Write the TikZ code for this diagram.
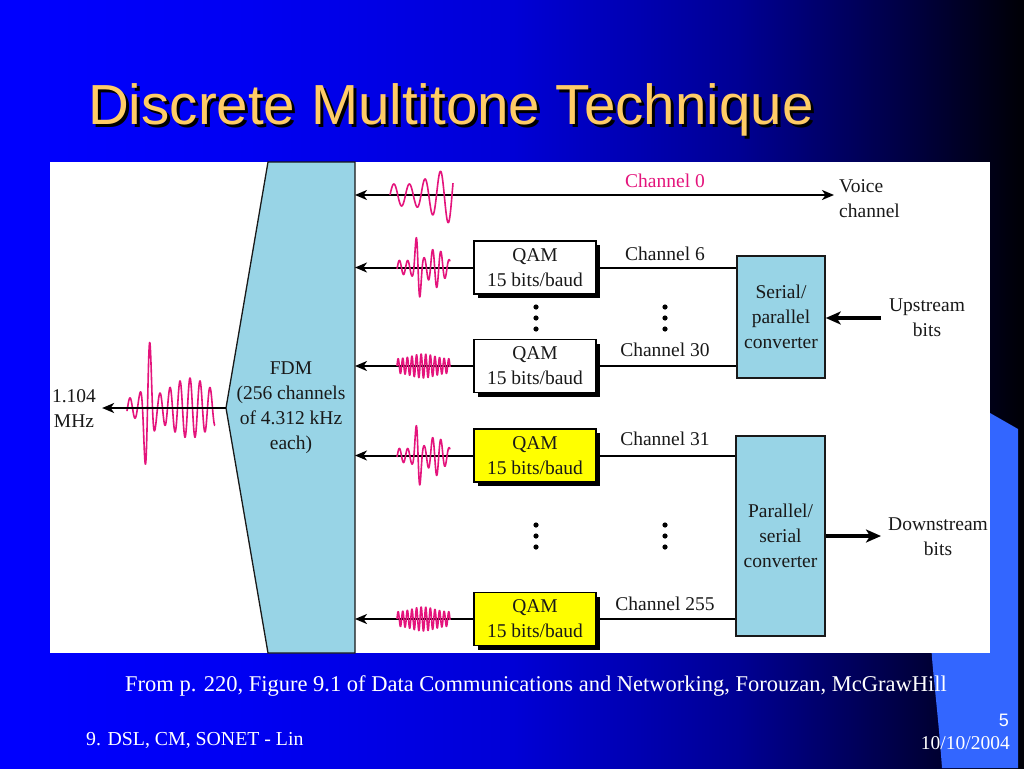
\documentclass[tikz,border=0pt]{standalone}
\usepackage{fontspec}
\setmainfont{Liberation Serif}
\newfontfamily\arialfont{Liberation Sans}
\usetikzlibrary{arrows.meta,shadows,calc}
\definecolor{fdmblue}{RGB}{152,212,230}
\definecolor{wavepink}{RGB}{228,20,124}
\definecolor{titleorange}{RGB}{255,204,102}
\definecolor{accentblue}{RGB}{51,102,255}
\definecolor{qamyellow}{RGB}{255,255,0}
\definecolor{ink}{RGB}{25,25,25}
\pgfdeclarehorizontalshading{slidebg}{100bp}{rgb(0bp)=(0,0,1); rgb(25bp)=(0,0,1); rgb(37bp)=(0,0,0.95); rgb(50bp)=(0,0,0.84); rgb(61bp)=(0,0,0.58); rgb(69bp)=(0,0,0.27); rgb(75bp)=(0,0,0.02); rgb(100bp)=(0,0,0.02)}
\newcommand{\shadowtext}[1]{\makebox[0pt][l]{\hspace*{3pt}\raisebox{-3pt}{\color{black}#1}}#1}
\begin{document}
\begin{tikzpicture}[x=1pt,y=-1pt,
  txt/.style={text=ink, font=\fontsize{19.5}{25}\selectfont, inner sep=0pt, align=center},
  lbl/.style={text=ink, font=\fontsize{19.5}{25}\selectfont, inner sep=0pt},
  ln/.style={draw=black, line width=2pt},
  arr/.style={draw=black, line width=2pt, -{Stealth[length=12pt,width=10pt,inset=3.5pt]}},
  dblarr/.style={draw=black, line width=2pt, {Stealth[length=12pt,width=10pt,inset=3.5pt]}-{Stealth[length=12pt,width=10pt,inset=3.5pt]}},
  fatarr/.style={draw=black, line width=4pt, -{Stealth[length=15pt,width=13pt,inset=4pt]}},
  qambox/.style={draw=black, line width=1.3pt, fill=white, minimum width=122pt, minimum height=53pt, inner sep=0pt, align=center, text=ink, font=\fontsize{19.5}{25}\selectfont, drop shadow={shadow xshift=4pt, shadow yshift=-4pt, opacity=1, fill=black}},
  convbox/.style={draw=ink, line width=1.5pt, fill=fdmblue, inner sep=0pt, align=center, text=ink, font=\fontsize{19.5}{25}\selectfont},
  wave/.style={draw=wavepink, line width=1.6pt, line join=round},
  dot/.style={fill=black},
  foot/.style={text=white, font=\fontsize{22.5}{26}\selectfont, inner sep=0pt}
]
\useasboundingbox (0,0) rectangle (1024,768);
% background
\shade[shading=slidebg] (0,0) rectangle (1024,768);
\fill[accentblue] (990,413) -- (1018,429) -- (1018,768) -- (942,768) .. controls (937,700) and (932,670) .. (931,640) -- (960,420) -- cycle;
% title
\node[anchor=base west, inner sep=0pt, text=titleorange, font=\arialfont\fontsize{56.5}{60}\selectfont] (title) at (88,124) {\shadowtext{Discrete Multitone Technique}};
% white figure area
\fill[white] (50,162) rectangle (990,653);
% FDM block
\draw[fill=fdmblue, draw=ink, line width=1.3pt] (268,162) -- (355,162) -- (355,653) -- (268,653) -- (226,408) -- cycle;
\node[txt] (fdm) at (291,408) {FDM\\(256 channels\\of 4.312 kHz\\each)};
\coordinate (fdmE) at (355,408);
\coordinate (fdmW) at (226,408);
% output
\node[txt] (mhz) at (74,409) {1.104\\MHz};
\draw[wave] plot[domain=127:215, samples=400] (\x, {408 - (10 + 62*exp(max(-30,-((\x-148)/5)^2)) + 20*exp(max(-30,-((\x-190)/25)^2)))*sin(36*(\x-147.5))});
\draw[arr] (fdmW) -- ($(mhz.east)+(6,-1)$);
% channel 0
\coordinate (c0a) at (355,195);
\coordinate (c0b) at (834,195);
\draw[dblarr] (c0b) -- (c0a);
\draw[wave] plot[domain=390:453, samples=300] (\x, {195 - (11 + 0.5*max(0,\x-415))*sin(23.226*(\x-390))});
\node[lbl, text=wavepink] (lab0) at (665,181) {Channel 0};
\node[txt, align=left, anchor=west] (voice) at (839,199) {Voice\\channel};
% QAM boxes
\node[qambox] (qam1) at (535,267.5) {QAM\\15 bits/baud};
\node[qambox] (qam2) at (535,366) {QAM\\15 bits/baud};
\node[qambox, fill=qamyellow] (qam3) at (535,455.5) {QAM\\15 bits/baud};
\node[qambox, fill=qamyellow] (qam4) at (535,619) {QAM\\15 bits/baud};
% converters
\node[convbox, minimum width=88pt, minimum height=122pt] (sp) at (781,317) {Serial/\\parallel\\converter};
\node[convbox, minimum width=89pt, minimum height=200pt] (ps) at (780.5,536) {Parallel/\\serial\\converter};
% connectors QAM -> FDM
\foreach \q in {qam1,qam2,qam3,qam4}{\draw[arr] (\q.west) -- (\q.west -| fdmE);}
\foreach \q in {qam1,qam2}{\draw[ln] (\q.east) -- (\q.east -| sp.west);}
\foreach \q in {qam3,qam4}{\draw[ln] (\q.east) -- (\q.east -| ps.west);}
% waves
\foreach \yc in {267.5,455.5}{
\draw[wave] plot[domain=397:450, samples=300] (\x, {\yc - (7 + 30*exp(max(-30,-((\x-418)/3.5)^2)) + 13*exp(max(-30,-((\x-436)/8)^2)))*sin(43.373*(\x-413.9))});}
\foreach \yc in {366,619}{
\draw[wave] plot[domain=397:450, samples=400] (\x, {\yc - (7 + 5*exp(max(-30,-((\x-423)/15)^2)))*sin(78.26*(\x-397))});}
% channel labels
\node[lbl] (lab6) at (665,254) {Channel 6};
\node[lbl] (lab30) at (665,350) {Channel 30};
\node[lbl] (lab31) at (665,439) {Channel 31};
\node[lbl] (lab255) at (665,604) {Channel 255};
% dots
\foreach \yy in {307,318,329}{\fill[dot] (536,\yy) circle (2.6); \fill[dot] (665,\yy) circle (2.6);}
\foreach \yy in {525,536,547}{\fill[dot] (536,\yy) circle (2.6); \fill[dot] (665,\yy) circle (2.6);}
% upstream / downstream
\node[txt] (up) at (927,318) {Upstream\\bits};
\node[txt] (down) at (938,537) {Downstream\\bits};
\coordinate (upS) at (881,318);
\coordinate (downE) at (881,536);
\draw[fatarr] (upS) -- (sp.east |- upS);
\draw[fatarr] (ps.east |- downE) -- (downE);
% footer
\node[foot] (src) at (536,686) {From p. 220, Figure 9.1 of Data Communications and Networking, Forouzan, McGrawHill};
\node[foot, anchor=west, font=\fontsize{19.8}{24}\selectfont] (lin) at (86,740) {9. DSL, CM, SONET - Lin};
\node[foot, anchor=east, font=\fontsize{19.5}{24}\selectfont] (date) at (1010,743) {10/10/2004};
\node[foot, anchor=east, font=\arialfont\fontsize{18}{22}\selectfont] (pg) at (1009,720) {5};
\end{tikzpicture}
\end{document}
